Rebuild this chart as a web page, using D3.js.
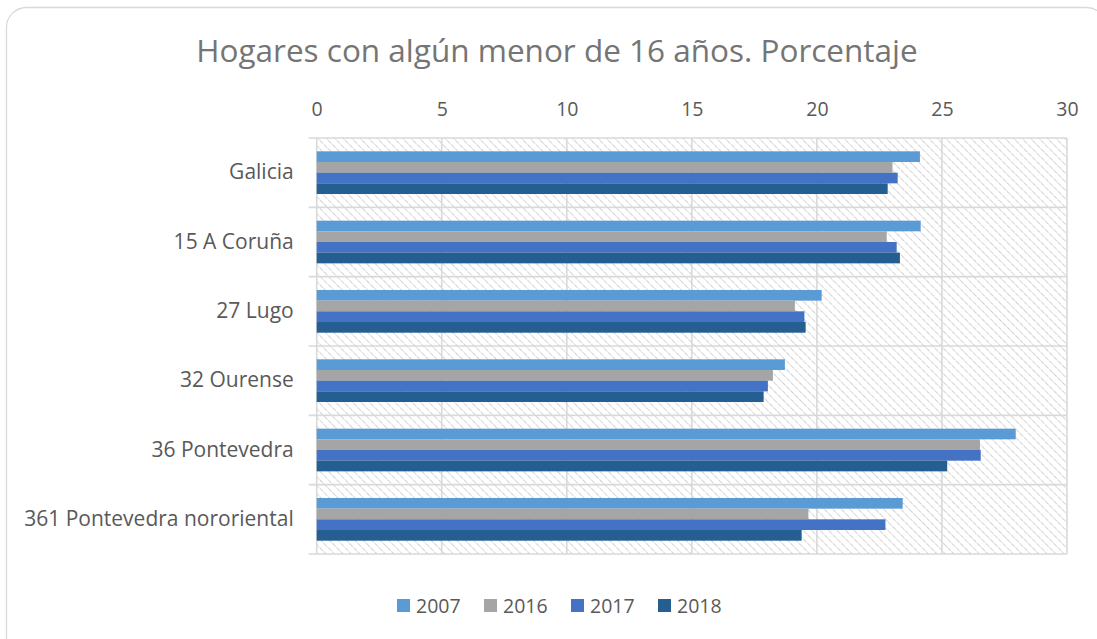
<!DOCTYPE html>
<html>
<head>
<meta charset="utf-8">
<script src="https://cdn.jsdelivr.net/npm/d3@7"></script>
<style>
  body { margin: 0; background: #fff; }
  text { font-family: "Open Sans", sans-serif; }
</style>
</head>
<body>
<div id="chart"></div>
<script>
// data
var categories = ["Galicia", "15 A Coruña", "27 Lugo", "32 Ourense", "36 Pontevedra", "361 Pontevedra nororiental"];
var years = ["2007", "2016", "2017", "2018"];
var colors = ["#5B9BD5", "#A5A5A5", "#4472C4", "#255E91"];
var v2007 = [24.12, 24.15, 20.19, 18.72, 27.95, 23.43];
var v2016 = [23.02, 22.79, 19.12, 18.24, 26.52, 19.66];
var v2017 = [23.23, 23.19, 19.50, 18.04, 26.55, 22.74];
var v2018 = [22.83, 23.32, 19.55, 17.87, 25.21, 19.39];
var xTicks = [0, 5, 10, 15, 20, 25, 30];
var title = "Hogares con algún menor de 16 años. Porcentaje";

var series = [v2007, v2016, v2017, v2018];

var W = 1097, H = 639;
var margin = {top: 138, left: 316.7};
var width = 1067 - margin.left, height = 554 - margin.top;
var fontFam = "'Open Sans', sans-serif";

var svg = d3.select("#chart").append("svg")
    .attr("width", W).attr("height", H);

// hatch pattern (downward diagonal)
var defs = svg.append("defs");
var pat = defs.append("pattern")
    .attr("id", "hatch")
    .attr("patternUnits", "userSpaceOnUse")
    .attr("width", 6).attr("height", 6)
    .attr("patternTransform", "rotate(-45)");
pat.append("line")
    .attr("x1", 0).attr("y1", 0).attr("x2", 0).attr("y2", 6)
    .attr("stroke", "#cfcfcf").attr("stroke-width", 1.8)
    .attr("stroke-dasharray", "2.5,1");

// outer frame
svg.append("rect")
    .attr("x", 6.5).attr("y", 7.5)
    .attr("width", 1100).attr("height", 650)
    .attr("rx", 20).attr("ry", 20)
    .attr("fill", "#fff").attr("stroke", "#d9d9d9").attr("stroke-width", 1.3);

svg.append("text")
    .attr("x", 557).attr("y", 62)
    .attr("text-anchor", "middle")
    .attr("font-size", 31.5)
    .attr("fill", "#757575")
    .text(title);

var g = svg.append("g")
    .attr("transform", "translate(" + margin.left + "," + margin.top + ")");

var x = d3.scaleLinear().domain([0, 30]).range([0, width]);
var y = d3.scaleBand().domain(categories).range([0, height])
    .paddingInner(0.384).paddingOuter(0.192);
var y1 = d3.scaleBand().domain(years).range([0, y.bandwidth()]);
var color = d3.scaleOrdinal().domain(years).range(colors);

// plot area background
g.append("rect")
    .attr("width", width).attr("height", height)
    .attr("fill", "url(#hatch)");

// vertical gridlines
g.selectAll(".vgrid")
    .data(xTicks)
    .enter().append("line")
    .attr("x1", function(d) { return x(d); })
    .attr("x2", function(d) { return x(d); })
    .attr("y1", 0).attr("y2", height)
    .attr("stroke", "#d9d9d9").attr("stroke-width", 1.6);

// category boundary lines
var step = y.step();
var bounds = d3.range(categories.length + 1).map(function(i) { return i * step; });
g.selectAll(".hgrid")
    .data(bounds)
    .enter().append("line")
    .attr("x1", -8).attr("x2", width)
    .attr("y1", function(d) { return d; })
    .attr("y2", function(d) { return d; })
    .attr("stroke", "#d9d9d9").attr("stroke-width", 1.6);

// top axis labels
var xAxis = d3.axisTop(x).tickValues(xTicks).tickSize(0).tickPadding(22);
var ax = g.append("g").call(xAxis);
ax.select(".domain").remove();
ax.selectAll("text")
    .attr("font-size", 19.5).attr("fill", "#595959")
    .style("font-family", fontFam);

// category labels
var yAxis = d3.axisLeft(y).tickSize(0).tickPadding(23);
var ay = g.append("g").call(yAxis);
ay.select(".domain").remove();
ay.selectAll("text")
    .attr("font-size", 21).attr("fill", "#595959")
    .style("font-family", fontFam);

// bars
var rows = categories.map(function(c, i) {
  return {cat: c, vals: years.map(function(yr, j) { return {year: yr, value: series[j][i]}; })};
});

var grp = g.selectAll(".cat")
    .data(rows)
    .enter().append("g")
    .attr("transform", function(d) { return "translate(0," + y(d.cat) + ")"; });

grp.selectAll("rect")
    .data(function(d) { return d.vals; })
    .enter().append("rect")
    .attr("x", 0)
    .attr("y", function(d) { return y1(d.year); })
    .attr("height", y1.bandwidth())
    .attr("width", function(d) { return x(d.value); })
    .attr("fill", function(d) { return color(d.year); });

// legend
var leg = svg.append("g").attr("transform", "translate(397,599)");
var item = leg.selectAll(".item")
    .data(years)
    .enter().append("g")
    .attr("transform", function(d, i) { return "translate(" + (i * 87) + ",0)"; });
item.append("rect")
    .attr("width", 13).attr("height", 13)
    .attr("fill", function(d) { return color(d); });
item.append("text")
    .attr("x", 19).attr("y", 13.5)
    .attr("font-size", 19.5).attr("fill", "#595959")
    .text(function(d) { return d; });
</script>
</body>
</html>
